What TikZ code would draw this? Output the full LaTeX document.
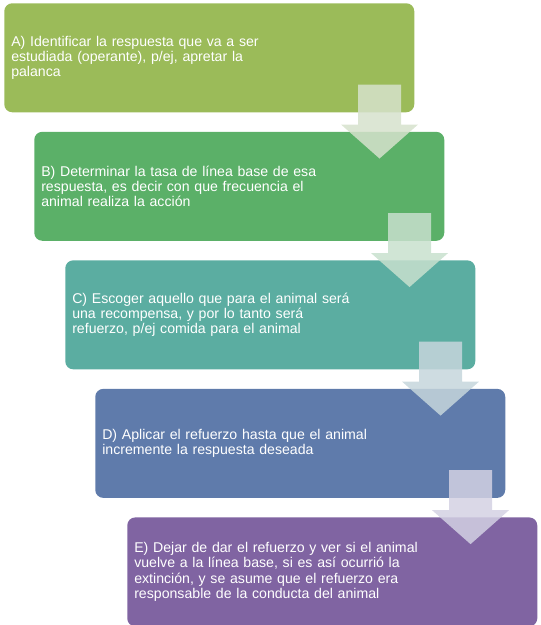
\documentclass[tikz,border=0pt]{standalone}
\usepackage{fontspec}
\setmainfont{Liberation Sans}
\usetikzlibrary{positioning,calc}
\definecolor{stepA}{RGB}{155,187,89}
\definecolor{stepB}{RGB}{91,176,104}
\definecolor{stepC}{RGB}{91,173,161}
\definecolor{stepD}{RGB}{95,123,171}
\definecolor{stepE}{RGB}{128,100,162}
\definecolor{arrowA}{RGB}{214,226,204}
\definecolor{arrowB}{RGB}{200,224,206}
\definecolor{arrowC}{RGB}{198,214,220}
\definecolor{arrowD}{RGB}{211,209,227}
\begin{document}
\begin{tikzpicture}[x=0.75pt,y=0.75pt,yscale=-1,xscale=1,
  stepbox/.style={rounded corners=6pt, minimum width=307.5pt, minimum height=81.75pt,
    text width=297pt, inner xsep=5.25pt, align=left, text=white,
    font=\fontsize{10.6}{11.4}\selectfont},
  pics/downarrow/.style={code={
    \fill[#1, fill opacity=0.85] (-21.5,37) -- (21.5,37) -- (21.5,-3) -- (38.5,-3) -- (0,-37) -- (-38.5,-3) -- (-21.5,-3) -- cycle;
  }}]
\useasboundingbox (0,0) rectangle (540,625);

%Steps
\node (A) [stepbox, fill=stepA, anchor=north west] at (4,3) {A) Identificar la respuesta que va a ser\\ estudiada (operante), p/ej, apretar la\\ palanca};
\node (B) [stepbox, fill=stepB, below right=14.25pt and 22.5pt of A.south west] {B) Determinar la tasa de línea base de esa\\ respuesta, es decir con que frecuencia el\\ animal realiza la acción};
\node (C) [stepbox, fill=stepC, below right=14.25pt and 23.25pt of B.south west] {C) Escoger aquello que para el animal será\\ una recompensa, y por lo tanto será\\ refuerzo, p/ej comida para el animal};
\node (D) [stepbox, fill=stepD, below right=14.25pt and 22.5pt of C.south west] {D) Aplicar el refuerzo hasta que el animal\\ incremente la respuesta deseada};
\node (E) [stepbox, fill=stepE, below right=14.25pt and 24pt of D.south west] {E) Dejar de dar el refuerzo y ver si el animal\\ vuelve a la línea base, si es así ocurrió la\\ extinción, y se asume que el refuerzo era\\ responsable de la conducta del animal};

%Arrows
\pic at ($(A.south east)+(-35,9)$) {downarrow=arrowA};
\pic at ($(B.south east)+(-35,9)$) {downarrow=arrowB};
\pic at ($(C.south east)+(-35,9)$) {downarrow=arrowC};
\pic at ($(D.south east)+(-35,9)$) {downarrow=arrowD};

\end{tikzpicture}
\end{document}
